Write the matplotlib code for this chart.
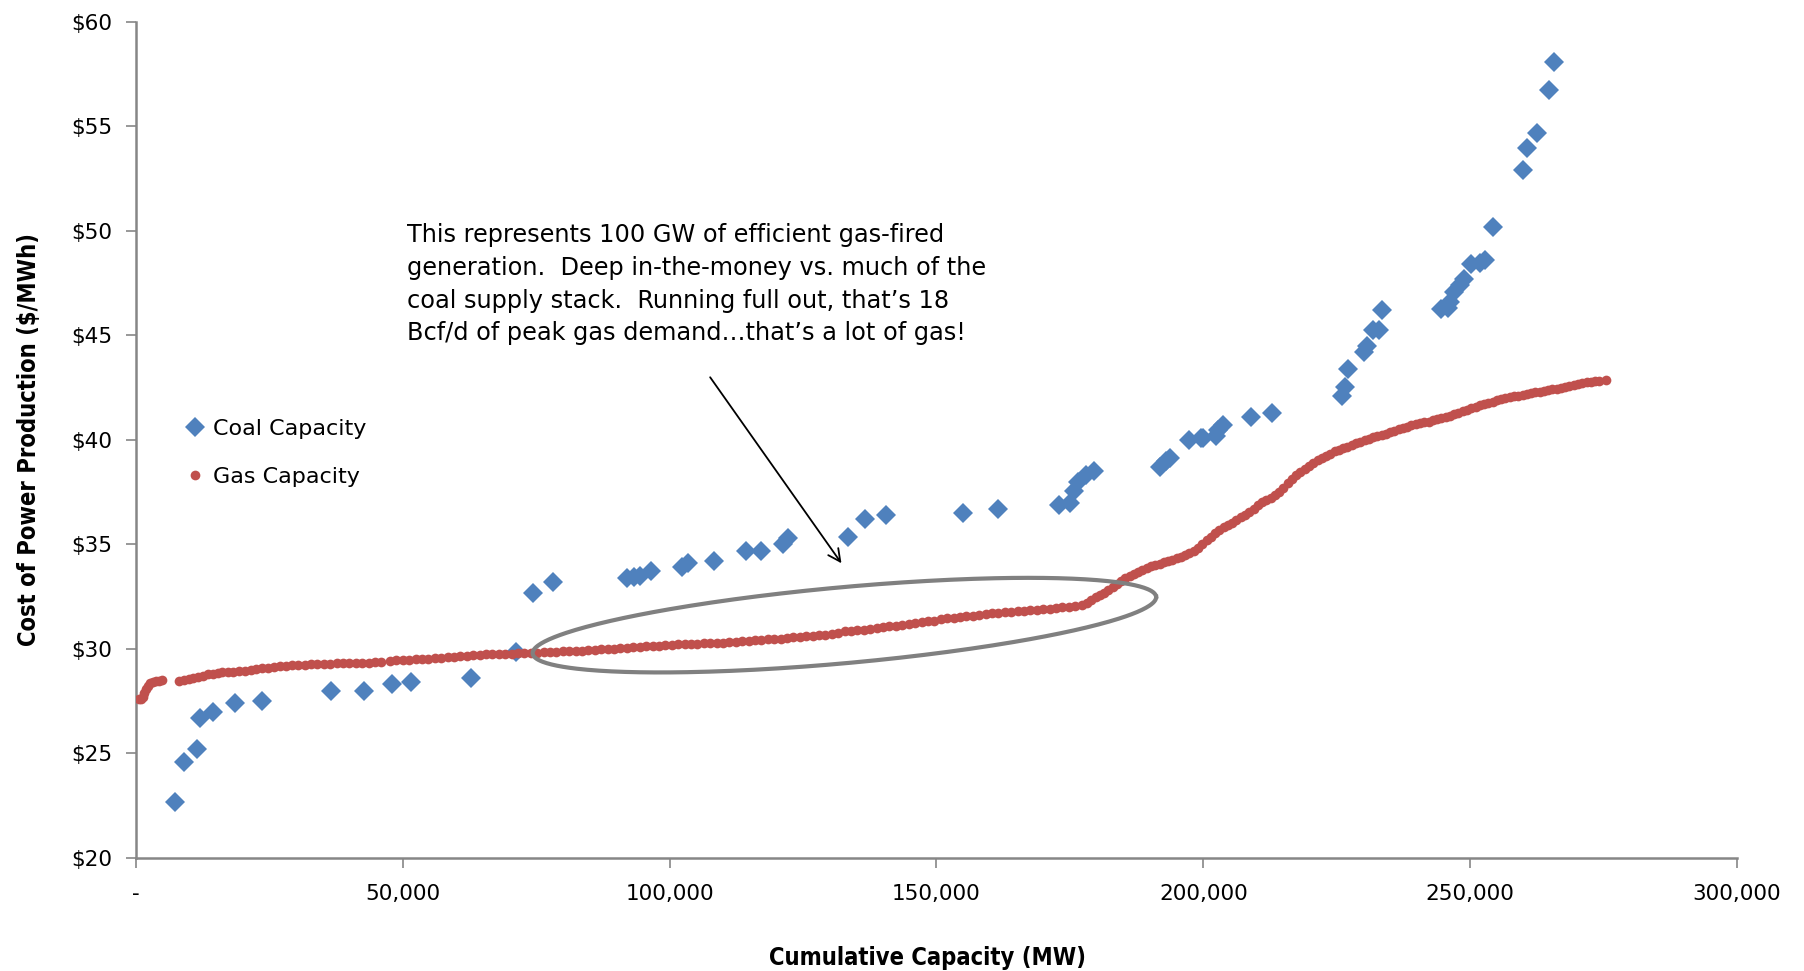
import numpy as np
import matplotlib
matplotlib.use("Agg")
import matplotlib.pyplot as plt
from matplotlib.lines import Line2D

# ---------------- data ----------------
coal_mw = [7300, 9100, 11400, 12100, 14400, 18600, 23700, 36500, 42700, 47900,
           51600, 62800, 71200, 74400, 78100, 92100, 93400, 94500, 96600, 102400,
           103500, 108300, 114300, 117100, 121200, 122100, 133500, 136700, 140600, 154900,
           161500, 173000, 175100, 175800, 176600, 178100, 179600, 191900, 193000, 193700,
           197300, 199500, 199900, 202300, 202700, 203600, 209000, 212900, 226000, 226500,
           227100, 230100, 230600, 231800, 232900, 233400, 244600, 245900, 246300, 246900,
           248000, 248900, 250200, 251900, 252800, 254300, 259900, 260700, 262500, 264800,
           265700]
coal_cost = [22.7, 24.6, 25.2, 26.7, 27.0, 27.4, 27.5, 28.0, 28.0, 28.3,
             28.4, 28.6, 29.85, 32.7, 33.2, 33.4, 33.45, 33.5, 33.75, 33.9,
             34.1, 34.2, 34.7, 34.7, 35.0, 35.3, 35.35, 36.2, 36.4, 36.5,
             36.7, 36.9, 37.0, 37.55, 38.0, 38.3, 38.5, 38.7, 39.0, 39.15,
             40.0, 40.1, 40.1, 40.2, 40.5, 40.7, 41.1, 41.3, 42.1, 42.55,
             43.4, 44.2, 44.5, 45.25, 45.25, 46.2, 46.25, 46.3, 46.6, 47.1,
             47.4, 47.7, 48.4, 48.45, 48.6, 50.2, 52.9, 53.95, 54.7, 56.75,
             58.1]

gas_mw = [500, 900, 1300, 1600, 1900, 2300, 2700, 3200, 3700, 4300, 4900,
          8100, 9000, 9900, 10800, 11700, 12600, 13500, 14400, 15300, 16200,
          17200, 18200, 19300, 20400, 21500, 22600, 23700, 24800, 25900, 27000,
          28100, 29300, 30400, 31600, 32800, 34000, 35200, 36400, 37600, 38800,
          40000, 41200, 42400, 43600, 44800, 46000, 47600, 48800, 50000, 51200,
          52400, 53600, 54800, 56000, 57200, 58400, 59600, 60800, 62000, 63200,
          64400, 65600, 66800, 68000, 69200, 70400, 71600, 72800, 74000, 75200,
          76400, 77600, 78800, 80000, 81200, 82400, 83600, 84800, 86000, 87200,
          88400, 89600, 90800, 92000, 93200, 94400, 95600, 96800, 98000, 99200,
          100400, 101600, 102800, 104000, 105200, 106400, 107600, 108800, 110000, 111200,
          112400, 113600, 114800, 116000, 117200, 118400, 119600, 120800, 122000, 123200,
          124400, 125600, 126800, 128000, 129200, 130400, 131600, 132800, 134000, 135200,
          136400, 137600, 138800, 140000, 141200, 142400, 143600, 144800, 146000, 147200,
          148400, 149600, 150800, 152000, 153200, 154400, 155600, 156800, 158000, 159200,
          160400, 161600, 162800, 164000, 165200, 166400, 167600, 168800, 170000, 171200,
          172400, 173600, 174800, 176000, 177200, 178200, 179000, 179800, 180600, 181400,
          182200, 183000, 183800, 184600, 185400, 186200, 187000, 187800, 188600, 189400,
          190200, 191000, 191800, 192600, 193400, 194200, 195000, 195800, 196600, 197400,
          198200, 199000, 199800, 200600, 201400, 202200, 203000, 203800, 204600, 205400,
          206200, 207000, 207800, 208600, 209400, 210200, 211000, 211800, 212600, 213400,
          214200, 215000, 215800, 216600, 217400, 218200, 219000, 219800, 220600, 221400,
          222200, 223000, 223800, 224600, 225400, 226200, 227000, 227800, 228600, 229400,
          230200, 231000, 231800, 232600, 233400, 234200, 235000, 235800, 236600, 237400,
          238200, 239000, 239800, 240600, 241400, 242200, 243000, 243800, 244600, 245400,
          246200, 247000, 247800, 248600, 249400, 250200, 251000, 251800, 252600, 253400,
          254200, 255000, 255800, 256600, 257400, 258200, 259000, 259800, 260600, 261400,
          262200, 263000, 263800, 264600, 265400, 266200, 267000, 267800, 268600, 269400,
          270200, 271000, 271800, 272600, 273400, 274200, 275400]
gas_cost = [27.6, 27.6, 27.7, 27.9, 28.1, 28.25, 28.35, 28.4, 28.45, 28.45, 28.5,
            28.48, 28.52, 28.58, 28.62, 28.66, 28.72, 28.78, 28.82, 28.86, 28.9,
            28.9, 28.92, 28.93, 28.95, 29.0, 29.05, 29.08, 29.1, 29.14, 29.18,
            29.2, 29.22, 29.23, 29.25, 29.26, 29.28, 29.3, 29.3, 29.31, 29.32,
            29.32, 29.33, 29.35, 29.35, 29.38, 29.4, 29.42, 29.45, 29.46, 29.48,
            29.5, 29.5, 29.52, 29.55, 29.58, 29.6, 29.62, 29.65, 29.68, 29.7,
            29.72, 29.74, 29.75, 29.76, 29.78, 29.78, 29.8, 29.8, 29.8, 29.82,
            29.84, 29.85, 29.86, 29.88, 29.9, 29.9, 29.92, 29.95, 29.97, 30.0,
            30.0, 30.02, 30.05, 30.07, 30.08, 30.1, 30.12, 30.15, 30.16, 30.18,
            30.2, 30.22, 30.24, 30.25, 30.26, 30.28, 30.28, 30.3, 30.3, 30.32,
            30.35, 30.38, 30.4, 30.42, 30.45, 30.46, 30.48, 30.5, 30.52, 30.55,
            30.58, 30.6, 30.62, 30.65, 30.68, 30.72, 30.78, 30.84, 30.88, 30.9,
            30.93, 30.96, 31.0, 31.04, 31.08, 31.12, 31.16, 31.2, 31.24, 31.28,
            31.32, 31.36, 31.42, 31.46, 31.5, 31.53, 31.56, 31.6, 31.63, 31.67,
            31.7, 31.73, 31.76, 31.78, 31.8, 31.83, 31.86, 31.88, 31.9, 31.93,
            31.96, 32.0, 32.03, 32.06, 32.1, 32.2, 32.35, 32.5, 32.6, 32.7,
            32.82, 32.95, 33.1, 33.25, 33.4, 33.5, 33.6, 33.7, 33.8, 33.88,
            33.95, 34.0, 34.08, 34.15, 34.2, 34.27, 34.33, 34.4, 34.48, 34.58,
            34.68, 34.82, 35.0, 35.2, 35.35, 35.55, 35.7, 35.82, 35.92, 36.05,
            36.15, 36.3, 36.42, 36.55, 36.72, 36.88, 37.02, 37.12, 37.22, 37.35,
            37.5, 37.72, 37.92, 38.12, 38.3, 38.48, 38.62, 38.75, 38.88, 39.02,
            39.15, 39.25, 39.35, 39.45, 39.52, 39.6, 39.68, 39.77, 39.85, 39.92,
            40.0, 40.05, 40.12, 40.18, 40.24, 40.3, 40.38, 40.45, 40.52, 40.58,
            40.64, 40.7, 40.76, 40.8, 40.84, 40.88, 40.94, 41.0, 41.05, 41.1,
            41.16, 41.22, 41.3, 41.38, 41.45, 41.52, 41.6, 41.66, 41.72, 41.78,
            41.84, 41.9, 41.95, 42.0, 42.04, 42.08, 42.12, 42.16, 42.2, 42.24,
            42.28, 42.3, 42.35, 42.38, 42.42, 42.45, 42.5, 42.54, 42.6, 42.64,
            42.68, 42.72, 42.75, 42.78, 42.8, 42.82, 42.85]

x_ticks = [0, 50000, 100000, 150000, 200000, 250000, 300000]
x_tick_labels = ["-", "50,000", "100,000", "150,000", "200,000", "250,000", "300,000"]
y_ticks = [20, 25, 30, 35, 40, 45, 50, 55, 60]
y_tick_labels = ["$20", "$25", "$30", "$35", "$40", "$45", "$50", "$55", "$60"]

annotation = ("This represents 100 GW of efficient gas-fired\n"
              "generation.  Deep in-the-money vs. much of the\n"
              "coal supply stack.  Running full out, that\u2019s 18\n"
              "Bcf/d of peak gas demand\u2026that\u2019s a lot of gas!")

# ---------------- style ----------------
COAL = "#4F81BD"
GAS = "#C0504D"
AXIS = "#868686"
plt.rcParams["font.family"] = ["DejaVu Sans"]
narrow = ["Liberation Sans Narrow", "DejaVu Sans"]

fig = plt.figure(figsize=(18.04, 9.71), dpi=100)
ax = fig.add_axes([0.0753, 0.1164, 0.9629 - 0.0753, 0.9774 - 0.1164])

ax.plot(coal_mw, coal_cost, linestyle="none", marker="D", markersize=10,
        color=COAL, markeredgewidth=0, label="Coal Capacity", zorder=3)
ax.plot(gas_mw, gas_cost, linestyle="none", marker="o", markersize=7,
        color=GAS, markeredgewidth=0, label="Gas Capacity", zorder=4)

ax.set_xlim(0, 300000)
ax.set_ylim(20, 60)
ax.set_xticks(x_ticks)
ax.set_xticklabels(x_tick_labels)
ax.set_yticks(y_ticks)
ax.set_yticklabels(y_tick_labels)
ax.tick_params(axis="both", labelsize=15.5, color=AXIS, length=7, width=1.2,
               direction="out", labelcolor="black")
ax.tick_params(axis="x", pad=12)
ax.tick_params(axis="y", pad=10)
for s in ["top", "right"]:
    ax.spines[s].set_visible(False)
for s in ["left", "bottom"]:
    ax.spines[s].set_color(AXIS)
    ax.spines[s].set_linewidth(1.8)

ax.set_xlabel("Cumulative Capacity (MW)", family=narrow, fontstretch="condensed",
              fontweight="bold", fontsize=17, labelpad=30)
ax.xaxis.label.set_x(0.4946)
ax.set_ylabel("Cost of Power Production ($/MWh)", family=narrow, fontstretch="condensed",
              fontweight="bold", fontsize=17, labelpad=22)

leg = ax.legend(loc="upper left", bbox_to_anchor=(0.019, 0.549), frameon=False,
                fontsize=16, handlelength=0.8, handletextpad=0.4, labelspacing=1.25,
                markerscale=1.0)

# annotation text and arrow
ax.text(0.1693, 0.7593, annotation, transform=ax.transAxes, fontsize=17.3,
        va="top", ha="left", linespacing=1.46)
ax.annotate("", xy=(132200, 34.1), xytext=(107600, 43.0),
            arrowprops=dict(arrowstyle="->", color="black", lw=1.3,
                            mutation_scale=22, shrinkA=0, shrinkB=0))

# highlight ellipse (drawn in pixel space so its rotation is preserved)
W_px = ax.get_position().width * fig.get_figwidth() * fig.dpi
H_px = ax.get_position().height * fig.get_figheight() * fig.dpi
cx, cy = ax.transAxes.inverted().transform(ax.transData.transform((132750, 31.14)))
a_px, b_px, theta = 313.0, 38.0, np.deg2rad(5.2)
t = np.linspace(0, 2 * np.pi, 400)
dx = a_px * np.cos(t) * np.cos(theta) - b_px * np.sin(t) * np.sin(theta)
dy = a_px * np.cos(t) * np.sin(theta) + b_px * np.sin(t) * np.cos(theta)
ax.add_line(Line2D(cx + dx / W_px, cy + dy / H_px, transform=ax.transAxes,
                   color="#808080", lw=3.0, zorder=5))

fig.savefig("out.png", dpi=100)
